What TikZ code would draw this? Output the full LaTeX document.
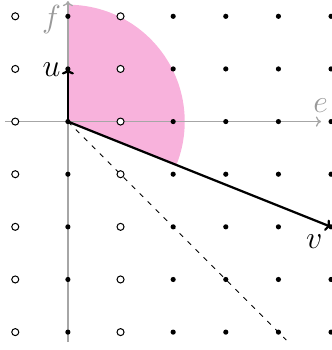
\documentclass[tikz,border=0pt]{standalone}
\usetikzlibrary{arrows.meta}
\definecolor{sectorpink}{RGB}{248,178,220}
\begin{document}
\begin{tikzpicture}[
  axis/.style={draw=gray!70, line width=0.7pt, -{To[length=2.8pt,width=5.5pt]}},
  vec/.style={draw=black, line width=1.2pt, -{To[length=3pt,width=6.5pt]}},
  fdot/.style={circle, fill=black, inner sep=0pt, minimum size=2.8pt},
  odot/.style={circle, draw=black, fill=white, line width=0.55pt, inner sep=0pt, minimum size=3.8pt},
  lbl/.style={font=\LARGE, inner sep=0pt},
  glbl/.style={lbl, text=gray!80}
]
\useasboundingbox (-1.29,-4.34) rectangle (5.0,2.31);
% sector
\fill[sectorpink] (0,0) -- (-21.8:2.22) arc[start angle=-21.8, end angle=90, radius=2.22] -- cycle;
% axes
\coordinate (O) at (0,0);
\coordinate (xl) at (-1.19,0);
\coordinate (xr) at (4.81,0);
\coordinate (yb) at (0,-4.19);
\coordinate (yt) at (0,2.29);
\draw[axis] (xl) -- (xr);
\draw[axis] (yb) -- (yt);
\node[glbl] (e) at (4.80,0.31) {$e$};
\node[glbl] (f) at (-0.31,1.93) {$f$};
% dashed line
\coordinate (D) at (4.15,-4.15);
\draw[line width=0.5pt, dash pattern=on 2.7pt off 3.4pt] (O) -- (D);
% vectors
\coordinate (U) at (0,1);
\coordinate (V) at (5,-2);
\draw[vec] (O) -- (U);
\draw[vec] (O) -- (V);
\node[lbl] (u) at (-0.31,0.98) {$u$};
\node[lbl] (v) at (4.68,-2.29) {$v$};
% lattice
\foreach \x in {-1,0,...,5}{
  \foreach \y in {-4,-3,...,2}{
    \ifnum\x=-1
      \node[odot] (p\x\y) at (\x,\y) {};
    \else\ifnum\x=1
      \node[odot] (p\x\y) at (\x,\y) {};
    \else
      \node[fdot] (p\x\y) at (\x,\y) {};
    \fi\fi
  }
}
\end{tikzpicture}
\end{document}
